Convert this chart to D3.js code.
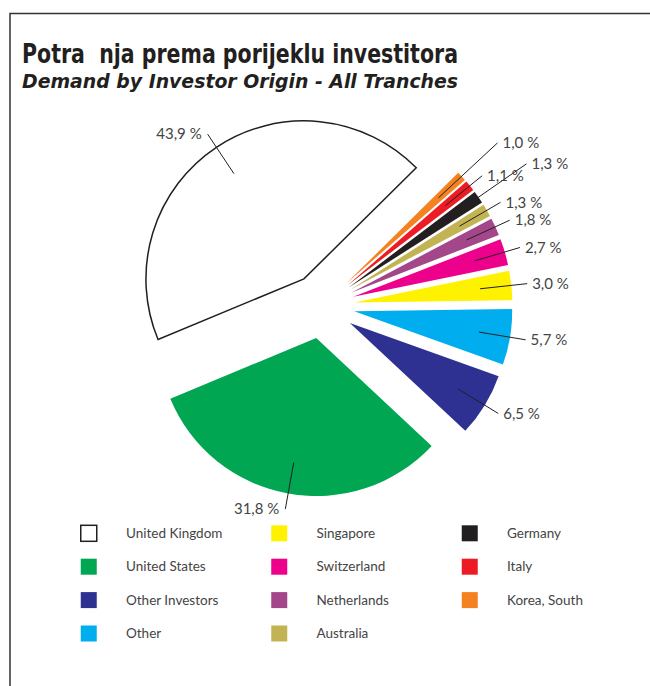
<!DOCTYPE html>
<html>
<head>
<meta charset="utf-8">
<script src="https://cdn.jsdelivr.net/npm/d3@7"></script>
<style>
  body { margin: 0; background: #fff; }
  svg text { font-family: Lato, "Open Sans", sans-serif; }
</style>
</head>
<body>
<script>
// Chart data
const categories = ["United Kingdom", "United States", "Other Investors", "Other", "Singapore",
  "Switzerland", "Netherlands", "Australia", "Germany", "Italy", "Korea, South"];
const shares = [43.9, 31.8, 6.5, 5.7, 3.0, 2.7, 1.8, 1.3, 1.3, 1.1, 1.0];
const colors = ["#ffffff", "#00a651", "#2e3192", "#00aeef", "#fff200",
  "#ec008c", "#a3468a", "#c2b453", "#231f20", "#ed1c24", "#f58220"];
const title = "Potra  nja prema porijeklu investitora";
const subtitle = "Demand by Investor Origin - All Tranches";

// Dimensions
const width = 650, height = 686;
const cx = 322, cy = 306, radius = 158, explode = 32.6;
const deg = Math.PI / 180;

// longer leader lines for the thin slices so their labels don't collide
const leaderOut = { "Korea, South": 1.31, "Germany": 1.37 };

const fmt = d3.formatLocale({ decimal: ",", thousands: ".", grouping: [3], currency: ["", ""] }).format(".1f");

const svg = d3.select("body").append("svg")
    .attr("width", width)
    .attr("height", height);

// Frame (top and left rule only)
svg.append("path")
    .attr("d", `M10,${height} V13.5 H${width}`)
    .attr("fill", "none")
    .attr("stroke", "#333")
    .attr("stroke-width", 1.5);

// Titles
svg.append("text")
    .attr("x", 22).attr("y", 63)
    .attr("textLength", 436).attr("lengthAdjust", "spacingAndGlyphs")
    .style("font-family", '"Liberation Sans Narrow", "DejaVu Sans Condensed", sans-serif')
    .style("font-weight", "bold")
    .style("font-size", "26px")
    .style("white-space", "pre")
    .attr("fill", "#231f20")
    .text(title);

svg.append("text")
    .attr("x", 22).attr("y", 88)
    .attr("textLength", 436).attr("lengthAdjust", "spacingAndGlyphs")
    .style("font-family", '"Liberation Sans Narrow", "DejaVu Sans Condensed", sans-serif')
    .style("font-weight", "bold")
    .style("font-style", "italic")
    .style("font-size", "20px")
    .attr("fill", "#231f20")
    .text(subtitle);

// Pie layout, drawn counter-clockwise in legend order
const pie = d3.pie().sort(null)
    .startAngle(405.3 * deg)
    .endAngle(45.3 * deg);

const arcs = pie(shares).map((d, i) => {
  d.name = categories[i];
  d.color = colors[i];
  d.mid = (d.startAngle + d.endAngle) / 2;
  return d;
});

const arc = d3.arc().innerRadius(0).outerRadius(radius);

const g = svg.append("g").attr("transform", `translate(${cx},${cy})`);

const slice = g.selectAll(".slice")
    .data(arcs)
    .enter().append("g")
    .attr("class", "slice")
    .attr("transform", d => `translate(${explode * Math.sin(d.mid)},${-explode * Math.cos(d.mid)})`);

slice.append("path")
    .attr("d", arc)
    .attr("fill", d => d.color)
    .attr("stroke", d => d.color === "#ffffff" ? "#231f20" : "none")
    .attr("stroke-width", 1.5)
    .attr("stroke-linejoin", "miter");

// Leader lines + percent labels
const polar = (r, a) => [r * Math.sin(a), -r * Math.cos(a)];

slice.append("line")
    .attr("x1", d => polar(radius * 0.8, d.mid)[0])
    .attr("y1", d => polar(radius * 0.8, d.mid)[1])
    .attr("x2", d => polar(radius * (leaderOut[d.name] || 1.1), d.mid)[0])
    .attr("y2", d => polar(radius * (leaderOut[d.name] || 1.1), d.mid)[1])
    .attr("stroke", "#231f20")
    .attr("stroke-width", 1);

slice.append("text")
    .attr("x", d => {
      const p = polar(radius * (leaderOut[d.name] || 1.1), d.mid);
      return p[0] + (Math.sin(d.mid) >= 0 ? 5 : -6);
    })
    .attr("y", d => polar(radius * (leaderOut[d.name] || 1.1), d.mid)[1])
    .attr("dy", "0.35em")
    .attr("text-anchor", d => Math.sin(d.mid) >= 0 ? "start" : "end")
    .style("font-size", "15px")
    .attr("fill", "#444")
    .text(d => fmt(d.data) + " %");

// Legend: 3 columns of 4 rows
const legend = svg.append("g").attr("class", "legend");
const item = legend.selectAll(".item")
    .data(arcs)
    .enter().append("g")
    .attr("class", "item")
    .attr("transform", (d, i) => `translate(${80 + Math.floor(i / 4) * 190.5},${533.3 + (i % 4) * 33.4})`);

item.append("rect")
    .attr("x", 0.75).attr("y", -8)
    .attr("width", 16).attr("height", 16)
    .attr("fill", d => d.color)
    .attr("stroke", d => d.color === "#ffffff" ? "#231f20" : "none")
    .attr("stroke-width", 1.5);

item.append("text")
    .attr("x", 46)
    .attr("dy", "0.35em")
    .style("font-size", "13.5px")
    .attr("fill", "#444")
    .text(d => d.name);
</script>
</body>
</html>
